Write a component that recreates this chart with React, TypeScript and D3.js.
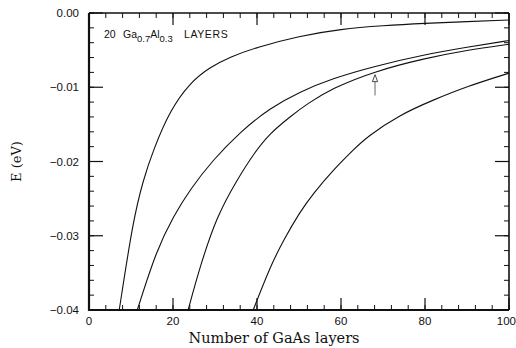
import React from "react";
import * as d3 from "d3";

// Number of GaAs layers (x) and energy E (eV) for each curve
const curveAX = [7.2, 10.5, 12.9, 15.3, 19.3, 24, 28.8, 33.6, 40, 50, 60, 70, 80, 90, 100];
const curveAY = [-0.04, -0.0279, -0.0225, -0.01845, -0.0131, -0.0094, -0.0073, -0.0059, -0.0046, -0.0031, -0.00215, -0.0017, -0.00139, -0.00115, -0.00094];

const curveBX = [11.5, 16.1, 20.1, 24, 29.5, 36, 43.1, 50.2, 58.1, 67.7, 80, 90, 100];
const curveBY = [-0.04, -0.0319, -0.0274, -0.0238, -0.0198, -0.016, -0.0128, -0.0106, -0.0088, -0.0072, -0.0056, -0.0046, -0.0037];

const curveCX = [23.6, 26.4, 30.4, 35.2, 39.5, 43.1, 47.9, 52, 58.1, 67.7, 80, 90, 100];
const curveCY = [-0.04, -0.0342, -0.0274, -0.0225, -0.0187, -0.0162, -0.01396, -0.0122, -0.0101, -0.0079, -0.0061, -0.005, -0.0042];

const curveDX = [39.1, 43.1, 46.3, 50.2, 53.4, 58.2, 62.9, 66.1, 74, 82, 89.9, 100];
const curveDY = [-0.04, -0.0342, -0.0306, -0.0268, -0.0243, -0.0211, -0.01845, -0.0167, -0.0137, -0.0117, -0.0099, -0.0081];

const xTicks = [0, 20, 40, 60, 80, 100];
const yTicks = [0, -0.01, -0.02, -0.03, -0.04];

const arrowX = 68.1;
const arrowTop = -0.0083;
const arrowBottom = -0.0111;

const left = 89, right = 509, top = 13, bottom = 310;

export default function App() {
  const x = d3.scaleLinear().domain([0, 100]).range([left, right]);
  const y = d3.scaleLinear().domain([-0.04, 0]).range([bottom, top]);

  const curves = [
    [curveAX, curveAY],
    [curveBX, curveBY],
    [curveCX, curveCY],
    [curveDX, curveDY],
  ];
  const line = d3
    .line<[number, number]>()
    .x((d) => x(d[0]))
    .y((d) => y(d[1]))
    .curve(d3.curveBasis);

  const xMinor = d3.range(0, 100.001, 4);
  const yMinor = d3.range(0, 0.04001, 0.002).map((v) => -v);

  const fmtY = (v: number) => (v === 0 ? "0.00" : "\u2212" + Math.abs(v).toFixed(2));

  const ax = x(arrowX);
  const ayTop = y(arrowTop);
  const ayBot = y(arrowBottom);
  const sans = "'Liberation Sans', Arial, sans-serif";

  return (
    <svg width={516} height={348} style={{ position: "absolute", left: 0, top: 0, background: "#fff" }}>
      <rect width={516} height={348} fill="#fff" />
      {/* minor ticks */}
      {xMinor.map((v, i) => (
        <g key={"xm" + i} stroke="#111" strokeWidth={1}>
          <line x1={x(v)} x2={x(v)} y1={bottom} y2={bottom - 5} />
          <line x1={x(v)} x2={x(v)} y1={top} y2={top + 5} />
        </g>
      ))}
      {yMinor.map((v, i) => (
        <g key={"ym" + i} stroke="#111" strokeWidth={1}>
          <line x1={left} x2={left + 5} y1={y(v)} y2={y(v)} />
          <line x1={right} x2={right - 5} y1={y(v)} y2={y(v)} />
        </g>
      ))}
      {/* major ticks */}
      {xTicks.map((v, i) => (
        <g key={"xM" + i} stroke="#111" strokeWidth={1.2}>
          <line x1={x(v)} x2={x(v)} y1={bottom} y2={bottom - 12} />
          <line x1={x(v)} x2={x(v)} y1={top} y2={top + 12} />
        </g>
      ))}
      {yTicks.map((v, i) => (
        <g key={"yM" + i} stroke="#111" strokeWidth={1.2}>
          <line x1={left} x2={left + 14} y1={y(v)} y2={y(v)} />
          <line x1={right} x2={right - 14} y1={y(v)} y2={y(v)} />
        </g>
      ))}
      {/* frame */}
      <line x1={left} x2={right} y1={top} y2={top} stroke="#111" strokeWidth={1.6} />
      <line x1={right} x2={right} y1={top} y2={bottom} stroke="#111" strokeWidth={1.6} />
      <line x1={left} x2={left} y1={top} y2={bottom + 1} stroke="#111" strokeWidth={2.2} />
      <line x1={left - 1} x2={right} y1={bottom} y2={bottom} stroke="#111" strokeWidth={2.2} />

      {/* curves */}
      {curves.map(([xs, ys], i) => (
        <path
          key={"c" + i}
          d={line(xs.map((v, j) => [v, ys[j]] as [number, number])) || ""}
          fill="none"
          stroke="#111"
          strokeWidth={1.1}
        />
      ))}

      {/* arrow */}
      <line x1={ax} x2={ax} y1={ayBot} y2={ayTop + 6} stroke="#555" strokeWidth={0.9} />
      <path
        d={`M${ax},${ayTop} L${ax - 2.6},${ayTop + 7} L${ax + 2.6},${ayTop + 7} Z`}
        fill="#fff"
        stroke="#333"
        strokeWidth={0.9}
      />

      {/* tick labels */}
      {yTicks.map((v, i) => (
        <text key={"yl" + i} x={79} y={y(v) + 4} textAnchor="end" fontFamily={sans} fontSize={11.5} fill="#111">
          {fmtY(v)}
        </text>
      ))}
      {xTicks.map((v, i) => {
        const last = i === xTicks.length - 1;
        return (
          <text
            key={"xl" + i}
            x={last ? 516 : x(v)}
            y={325}
            textAnchor={last ? "end" : "middle"}
            fontFamily={sans}
            fontSize={11.5}
            fill="#111"
          >
            {v}
          </text>
        );
      })}

      {/* annotation */}
      <text y={38} fontFamily={sans} fontSize={10.5} fill="#111">
        <tspan x={104}>20</tspan>
        <tspan x={123}>Ga</tspan>
        <tspan dy={3.5} fontSize={9.5}>0.7</tspan>
        <tspan dy={-3.5}>Al</tspan>
        <tspan dy={3.5} fontSize={9.5}>0.3</tspan>
        <tspan x={184} dy={-3.5} letterSpacing={0.6}>LAYERS</tspan>
      </text>

      {/* axis titles */}
      <text x={274} y={343} textAnchor="middle" fontFamily="'DejaVu Serif', serif" fontSize={14.5} fill="#111">
        Number of GaAs layers
      </text>
      <text
        transform={`translate(21,${(top + bottom) / 2}) rotate(-90)`}
        textAnchor="middle"
        fontFamily="'DejaVu Serif', serif"
        fontSize={13}
        fill="#111"
      >
        E (eV)
      </text>
    </svg>
  );
}
